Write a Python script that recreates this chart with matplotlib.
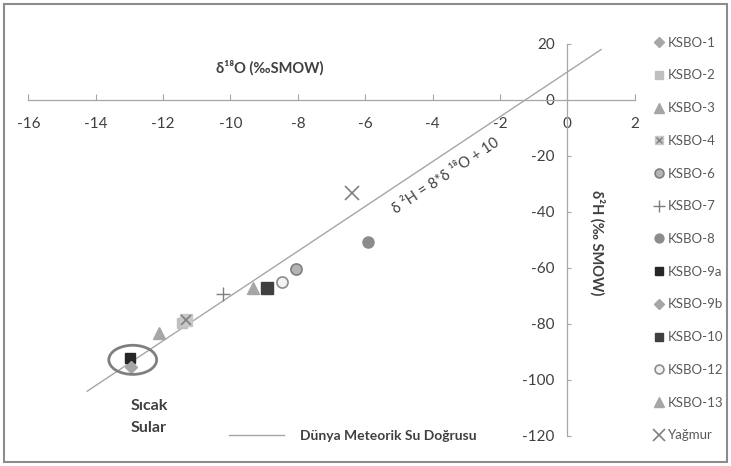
import numpy as np
import matplotlib
matplotlib.use("Agg")
import matplotlib.pyplot as plt
from matplotlib.patches import Ellipse, Rectangle
from matplotlib.lines import Line2D

plt.rcParams['font.family'] = ['Lato', 'Open Sans', 'DejaVu Sans']
plt.rcParams['axes.unicode_minus'] = False

# isotope data, delta 18O and delta 2H (permil SMOW)
samples = ['KSBO-1', 'KSBO-2', 'KSBO-3', 'KSBO-4', 'KSBO-6', 'KSBO-7', 'KSBO-8',
           'KSBO-9a', 'KSBO-9b', 'KSBO-10', 'KSBO-12', 'KSBO-13', 'Yağmur']
d18o = [-11.40, -11.45, -12.11, -11.32, -8.04, -10.23, -5.93,
        -12.98, -12.96, -8.90, -8.48, -9.32, -6.40]
d2h = [-79.0, -79.5, -83.1, -78.6, -60.4, -69.3, -50.6,
       -92.3, -95.5, -67.3, -65.1, -67.3, -33.1]

# global meteoric water line: d2H = 8 * d18O + 10
gmwl_x = [-14.25, 1.0]
gmwl_slope = 8
gmwl_icept = 10

x_ticks = [-16, -14, -12, -10, -8, -6, -4, -2, 0, 2]
y_ticks = [-120, -100, -80, -60, -40, -20, 0, 20]

styles = {
    'KSBO-1':  dict(marker='D', ms=6, mfc='#a6a6a6', mec='#a6a6a6'),
    'KSBO-2':  dict(marker='s', ms=7, mfc='#bfbfbf', mec='#bfbfbf'),
    'KSBO-3':  dict(marker='^', ms=9, mfc='#a6a6a6', mec='#a6a6a6'),
    'KSBO-4':  dict(marker='s', ms=8, mfc='#c8c8c8', mec='#c8c8c8'),
    'KSBO-6':  dict(marker='o', ms=8, mfc='#b4b4b4', mec='#7f7f7f', mew=1.2),
    'KSBO-7':  dict(marker='+', ms=10, mfc='none', mec='#7f7f7f', mew=1.0),
    'KSBO-8':  dict(marker='o', ms=8, mfc='#8c8c8c', mec='#8c8c8c'),
    'KSBO-9a': dict(marker='s', ms=7, mfc='#262626', mec='#262626'),
    'KSBO-9b': dict(marker='D', ms=6, mfc='#a6a6a6', mec='#a6a6a6'),
    'KSBO-10': dict(marker='s', ms=8, mfc='#404040', mec='#404040'),
    'KSBO-12': dict(marker='o', ms=8, mfc='#f2f2f2', mec='#8c8c8c', mew=1.2),
    'KSBO-13': dict(marker='^', ms=9, mfc='#a6a6a6', mec='#a6a6a6'),
    'Yağmur':  dict(marker='x', ms=10, mfc='none', mec='#808080', mew=1.2),
}

fig = plt.figure(figsize=(7.31, 4.66), dpi=100)
ax = fig.add_axes([0.0387, 0.0644, 0.8296, 0.8412])
ax.set_xlim(-16, 2)
ax.set_ylim(-120, 20)

# meteoric line
gx = np.array(gmwl_x)
gline, = ax.plot(gx, gmwl_slope * gx + gmwl_icept, color='#a6a6a6', lw=1.0, zorder=2)

handles = []
for name, x, y in zip(samples, d18o, d2h):
    h, = ax.plot([x], [y], ls='none', zorder=3, **styles[name])
    if name == 'KSBO-4':
        ax.plot([x], [y], ls='none', marker='x', ms=7, mec='#7f7f7f', mew=1.2, zorder=3)
    handles.append(h)

# legend handle for KSBO-4 (square with cross)
k4 = handles[samples.index('KSBO-4')]
k4_cross = Line2D([], [], ls='none', marker='x', ms=5, mec='#7f7f7f', mew=1.0)

# hot water circle
ax.add_patch(Ellipse((-12.9, -92.8), 1.42, 10.4, fill=False,
                     ec='#7f7f7f', lw=2.0, zorder=4))
ax.text(-12.95, -113.3, 'Sıcak\nSular', ha='left', va='center', fontsize=11.5,
        fontweight='bold', color='#404040', linespacing=1.75)

# axes through the origin
for s in ['top', 'right']:
    ax.spines[s].set_visible(False)
ax.spines['left'].set_position(('data', 0))
ax.spines['bottom'].set_position(('data', 0))
for s in ['left', 'bottom']:
    ax.spines[s].set_color('#a6a6a6')
    ax.spines[s].set_linewidth(0.9)
ax.set_xticks(x_ticks)
ax.set_yticks(y_ticks)
ax.tick_params(axis='x', direction='in', length=4, pad=12, colors='#a6a6a6',
               labelcolor='#404040', labelsize=11)
ax.tick_params(axis='y', direction='in', length=3, pad=9, colors='#a6a6a6',
               labelcolor='#404040', labelsize=11)

ax.text(-8.83, 11.4, 'δ¹⁸O (‰SMOW)', ha='center', va='center', fontsize=10.5,
        fontweight='bold', color='#404040')
ax.text(0.87, -51, 'δ²H (‰ SMOW)', ha='center', va='center', rotation=270,
        fontsize=10.5, fontweight='bold', color='#404040')

# equation along the line
fig.canvas.draw()
p0 = ax.transData.transform((gx[0], gmwl_slope * gx[0] + gmwl_icept))
p1 = ax.transData.transform((gx[1], gmwl_slope * gx[1] + gmwl_icept))
ang = np.degrees(np.arctan2(p1[1] - p0[1], p1[0] - p0[0]))
ax.text(-3.6, -27, 'δ ²H = 8*δ ¹⁸O + 10', rotation=ang, rotation_mode='anchor',
        ha='center', va='center', fontsize=10.5, color='#404040')

leg = ax.legend(handles[:3] + [(k4, k4_cross)] + handles[4:], samples,
                loc='upper left', bbox_to_anchor=(1.016, 1.042), frameon=False,
                fontsize=9.5, labelspacing=1.57, handlelength=0.8,
                handletextpad=0.3, markerscale=0.8, labelcolor='#595959',
                borderaxespad=0.3)
ax.add_artist(leg)

ax.legend([gline], ['Dünya Meteorik Su Doğrusu'], loc='center left',
          bbox_to_anchor=(0.31, 0.0), frameon=False, handlelength=4.0,
          handletextpad=1.1, prop=dict(weight='bold', size=10),
          labelcolor='#404040')

fig.add_artist(Rectangle((0.006, 0.008), 0.988, 0.984, transform=fig.transFigure,
                         fill=False, ec='#8c8c8c', lw=1.5))

fig.savefig('out.png', dpi=100)
